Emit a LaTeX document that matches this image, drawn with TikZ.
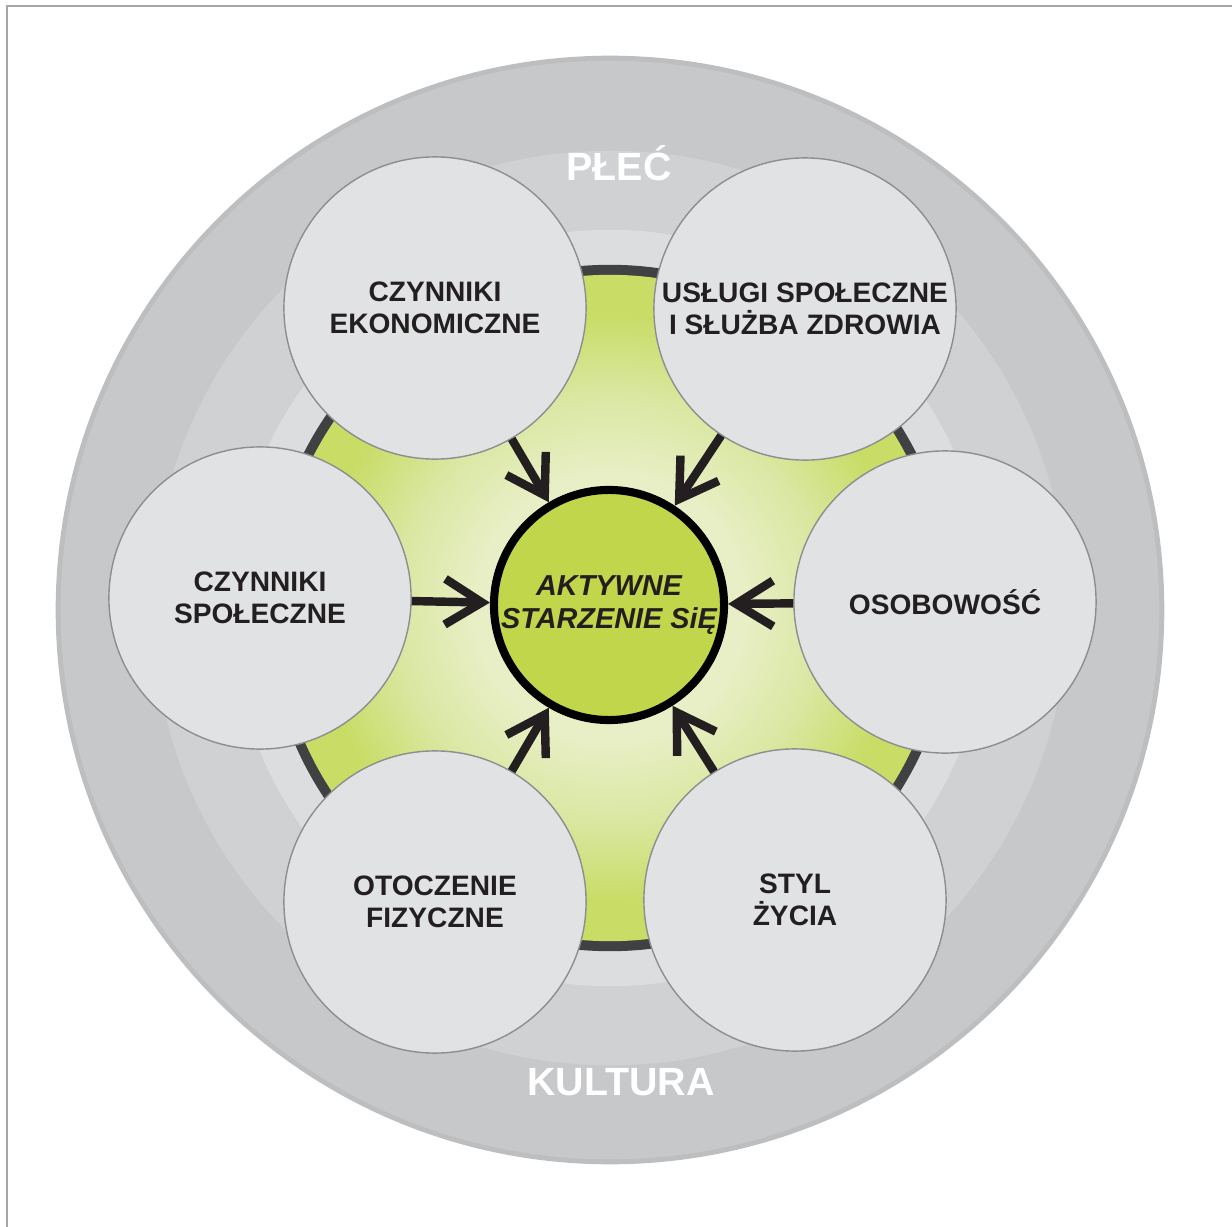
\documentclass[tikz,border=0pt]{standalone}
\usepackage{fontspec}
\setmainfont{Liberation Sans}
\usetikzlibrary{arrows.meta}

\definecolor{ringrim}{HTML}{BDBEC0}
\definecolor{ringgray}{HTML}{C7C8CA}
\definecolor{ringmid}{HTML}{D0D1D3}
\definecolor{ringlight}{HTML}{DCDDDF}
\definecolor{ringdark}{HTML}{404143}
\definecolor{satfill}{HTML}{E1E2E4}
\definecolor{satline}{HTML}{8D8E90}
\definecolor{coregreen}{HTML}{C1D64A}
\definecolor{glowgreen}{HTML}{C8DC66}
\definecolor{glowmid}{HTML}{DAE7A2}
\definecolor{glowpale}{HTML}{E8EFC6}
\definecolor{textblack}{HTML}{231F20}

\pgfdeclareradialshading{glow}{\pgfpoint{0bp}{0bp}}{color(0bp)=(glowpale); color(10bp)=(glowpale); color(16bp)=(glowmid); color(22bp)=(glowgreen); color(25bp)=(glowgreen); color(50bp)=(glowgreen)}

\begin{document}
\begin{tikzpicture}[x=0.01cm, y=-0.01cm,
  factor/.style={circle, draw=satline, line width=0.4pt, fill=satfill, minimum size=3.02cm, inner sep=0pt, align=center, text=textblack, font=\bfseries\fontsize{8}{9.2}\selectfont},
  core/.style={circle, draw=black, line width=2.3pt, fill=coregreen, minimum size=2.3cm, inner sep=0pt, align=center, text=textblack, font=\bfseries\itshape\fontsize{8.2}{9.4}\selectfont},
  ringlabel/.style={text=white, font=\bfseries\fontsize{11.2}{13}\selectfont},
  arr/.style={draw=textblack, line width=2.4pt, -{Straight Barb[length=10.5pt,width=13pt]}}]
\useasboundingbox (0,0) rectangle (1232,1227);
\draw[black!35, line width=0.5pt] (7,1227) -- (7,6) -- (1232,6);

% rings
\fill[ringrim] (610,610) circle[radius=5.54cm];
\fill[ringgray] (610,610) circle[radius=5.49cm];
\fill[ringmid] (610,608) circle[radius=4.57cm];
\fill[ringlight] (610,608) circle[radius=3.78cm];
\fill[ringdark] (610,608) circle[radius=3.43cm];
\shade[shading=glow] (610,608) circle[radius=3.33cm];

\node[ringlabel](plec) at (619,163) {PŁEĆ};
\node[ringlabel](kultura) at (621,1082) {KULTURA};

\node[factor](eko) at (435,308) {CZYNNIKI\\EKONOMICZNE};
\node[factor](uslugi) at (805,309) {USŁUGI SPOŁECZNE\\I SŁUŻBA ZDROWIA};
\node[factor](spol) at (260,598) {CZYNNIKI\\SPOŁECZNE};
\node[factor](osob) at (945,602) {OSOBOWOŚĆ};
\node[factor](otocz) at (435,902) {OTOCZENIE\\FIZYCZNE};
\node[factor](styl) at (795,900) {STYL\\ŻYCIA};

\node[core](core) at (609,605) {AKTYWNE\\STARZENIE SiĘ};

\path(eko)edge[arr](core);
\path(uslugi)edge[arr](core);
\path(spol)edge[arr](core);
\path(osob)edge[arr](core);
\path(otocz)edge[arr](core);
\path(styl)edge[arr](core);
\end{tikzpicture}
\end{document}
